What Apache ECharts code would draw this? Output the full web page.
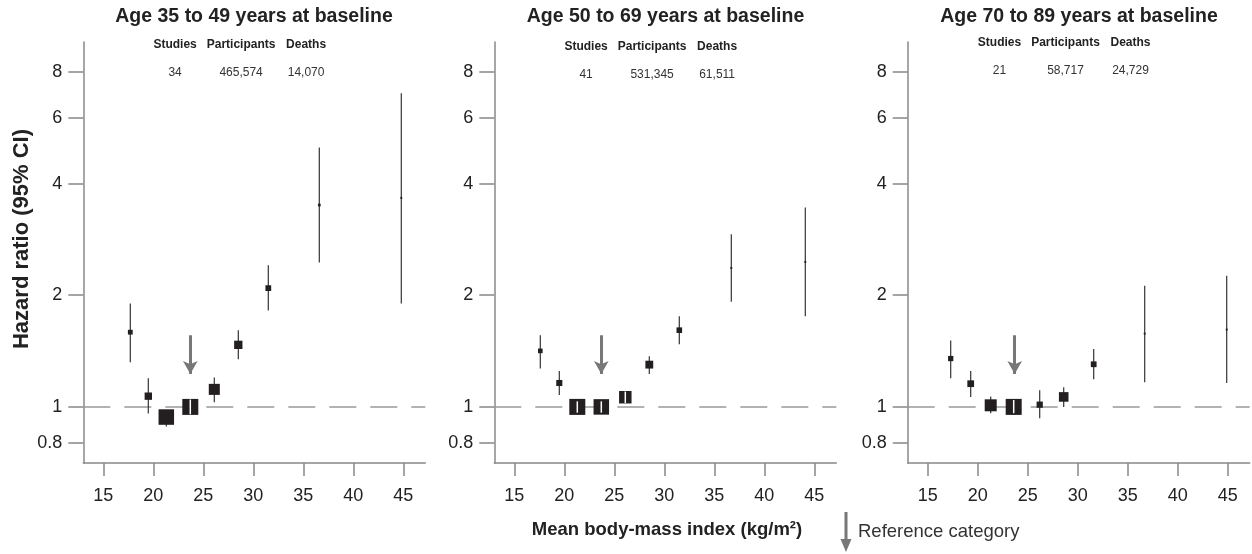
<!DOCTYPE html>
<html>
<head>
<meta charset="utf-8"/>
<script src="https://cdn.jsdelivr.net/npm/echarts@6/dist/echarts.min.js"></script>
<style>html,body{margin:0;padding:0;background:#fff;}</style>
</head>
<body>
<div id="main" style="width:1252px;height:554px;"></div>
<script type="text/javascript">
// panel headings and counts
var panelTitles = ['Age 35 to 49 years at baseline', 'Age 50 to 69 years at baseline', 'Age 70 to 89 years at baseline'];
var studies = ['34', '41', '21'];
var participants = ['465,574', '531,345', '58,717'];
var deaths = ['14,070', '61,511', '24,729'];

var xTicks = [15, 20, 25, 30, 35, 40, 45];
var yTicks = [0.8, 1, 2, 4, 6, 8];
var refBmi = 23.7;

// age 35-49
var bmi1 = [17.7, 19.5, 21.3, 23.7, 26.1, 28.5, 31.5, 36.6, 44.8];
var hr1 = [1.59, 1.069, 0.939, 1.00, 1.115, 1.47, 2.09, 3.50, 3.66];
var lo1 = [1.32, 0.96, 0.885, 0.955, 1.03, 1.345, 1.82, 2.45, 1.90];
var hi1 = [1.90, 1.195, 0.98, 1.047, 1.20, 1.61, 2.41, 5.00, 7.01];
var weight1 = [0.30, 0.46, 0.97, 1.0, 0.69, 0.52, 0.36, 0.17, 0.12];

// age 50-69
var bmi2 = [17.6, 19.5, 21.3, 23.7, 26.1, 28.5, 31.5, 36.7, 44.1];
var hr2 = [1.416, 1.16, 1.00, 1.00, 1.062, 1.30, 1.61, 2.37, 2.46];
var lo2 = [1.27, 1.077, 0.965, 0.965, 1.025, 1.227, 1.476, 1.92, 1.756];
var hi2 = [1.56, 1.25, 1.035, 1.035, 1.10, 1.37, 1.756, 2.92, 3.45];
var weight2 = [0.29, 0.38, 1.0, 0.97, 0.78, 0.49, 0.35, 0.12, 0.12];

// age 70-89
var bmi3 = [17.3, 19.3, 21.3, 23.6, 26.2, 28.6, 31.6, 36.7, 44.9];
var hr3 = [1.35, 1.155, 1.01, 1.00, 1.014, 1.064, 1.303, 1.576, 1.616];
var lo3 = [1.195, 1.064, 0.962, 0.962, 0.932, 1.00, 1.188, 1.166, 1.16];
var hi3 = [1.51, 1.25, 1.066, 1.044, 1.109, 1.13, 1.433, 2.12, 2.256];
var weight3 = [0.33, 0.42, 0.75, 1.0, 0.39, 0.6, 0.36, 0.12, 0.12];

var panels = [
    {bmi: bmi1, hr: hr1, lo: lo1, hi: hi1, w: weight1},
    {bmi: bmi2, hr: hr2, lo: lo2, hi: hi2, w: weight2},
    {bmi: bmi3, hr: hr3, lo: lo3, hi: hi3, w: weight3}
];

var BOX_MAX = 16;
var gridLeft = [83.3, 494.3, 907.7];
var statsTop = [45, 47, 43];
var FONT = 'Liberation Sans, Arial, sans-serif';
var lg = function (v) { return Math.log10(v); };

var myChart = echarts.init(document.getElementById('main'));

function renderBox(params, api) {
    var c = api.coord([api.value(0), api.value(1)]);
    var yLo = api.coord([api.value(0), api.value(2)])[1];
    var yHi = api.coord([api.value(0), api.value(3)])[1];
    var s = api.value(4) * BOX_MAX;
    var h = s / 2;
    var kids = [
        {type: 'line', shape: {x1: c[0], y1: yHi, x2: c[0], y2: yLo}, style: {stroke: '#333', lineWidth: 1.2}},
        {type: 'rect', shape: {x: c[0] - h, y: c[1] - h, width: s, height: s}, style: {fill: '#231f20'}}
    ];
    // CI inside the box is drawn white
    if (yHi >= c[1] - h && yLo <= c[1] + h) {
        kids.push({type: 'line', shape: {x1: c[0], y1: yHi, x2: c[0], y2: yLo}, style: {stroke: '#fff', lineWidth: 1.5}});
    }
    return {type: 'group', children: kids};
}

var grids = [], xAxes = [], yAxes = [], series = [], graphics = [];

panels.forEach(function (p, i) {
    grids.push({left: gridLeft[i], top: 42, width: 342, height: 421});
    xAxes.push({
        gridIndex: i, type: 'value', min: 13, max: 47.2,
        axisLine: {show: true, onZero: false, lineStyle: {color: '#888', width: 1.5}},
        axisTick: {show: true, length: 13, customValues: xTicks, lineStyle: {color: '#888', width: 1.5}},
        axisLabel: {customValues: xTicks, margin: 24, fontSize: 18, color: '#222', fontFamily: FONT},
        splitLine: {show: false}
    });
    yAxes.push({
        gridIndex: i, type: 'value', min: lg(0.706), max: lg(9.63),
        axisLine: {show: true, onZero: false, lineStyle: {color: '#888', width: 1.5}},
        axisTick: {show: true, length: 15, customValues: yTicks.map(lg), lineStyle: {color: '#888', width: 1.5}},
        axisLabel: {
            customValues: yTicks.map(lg), margin: 21, fontSize: 18, color: '#222', fontFamily: FONT,
            formatter: function (v) { return String(+Math.pow(10, v).toFixed(1)); }
        },
        splitLine: {show: false}
    });
    series.push({
        type: 'custom',
        xAxisIndex: i, yAxisIndex: i,
        z: 2,
        renderItem: renderBox,
        encode: {x: 0, y: 1},
        data: p.bmi.map(function (b, k) {
            return [b, lg(p.hr[k]), lg(p.lo[k]), lg(p.hi[k]), p.w[k]];
        }),
        markLine: {
            silent: true, z: 1, symbol: ['none', 'none'],
            label: {show: false},
            data: [
                {yAxis: 0, lineStyle: {color: '#999', width: 1.5, type: [27, 14]}},
                [
                    {coord: [refBmi, lg(1.56)], lineStyle: {color: '#777', width: 3, type: 'solid'}},
                    {coord: [refBmi, lg(1.227)], symbol: 'arrow', symbolSize: [11, 13]}
                ]
            ]
        }
    });

    var cx = [254, 665.5, 1079][i];
    graphics.push({type: 'text', x: cx, y: 17,
        style: {text: panelTitles[i], textAlign: 'center', textVerticalAlign: 'middle', font: 'bold 19.5px ' + FONT, fill: '#222'}});
    var offs = [91.8, 157.8, 222.8];
    var heads = ['Studies', 'Participants', 'Deaths'];
    var vals = [studies[i], participants[i], deaths[i]];
    for (var k = 0; k < 3; k++) {
        graphics.push({type: 'text', x: gridLeft[i] + offs[k], y: statsTop[i],
            style: {text: heads[k], textAlign: 'center', textVerticalAlign: 'middle', font: 'bold 12px ' + FONT, fill: '#222'}});
        graphics.push({type: 'text', x: gridLeft[i] + offs[k], y: statsTop[i] + 28,
            style: {text: vals[k], textAlign: 'center', textVerticalAlign: 'middle', font: '12px ' + FONT, fill: '#333'}});
    }
});

// axis names and legend
graphics.push({type: 'text', x: 22, y: 239, rotation: Math.PI / 2,
    style: {text: 'Hazard ratio (95% CI)', textAlign: 'center', textVerticalAlign: 'middle', font: 'bold 22px ' + FONT, fill: '#222'}});
graphics.push({type: 'text', x: 667, y: 530,
    style: {text: 'Mean body-mass index (kg/m²)', textAlign: 'center', textVerticalAlign: 'middle', font: 'bold 18.5px ' + FONT, fill: '#222'}});
graphics.push({type: 'line', shape: {x1: 846, y1: 512, x2: 846, y2: 542}, style: {stroke: '#777', lineWidth: 3}});
graphics.push({type: 'polygon', shape: {points: [[840.5, 539], [851.5, 539], [846, 552]]}, style: {fill: '#777'}});
graphics.push({type: 'text', x: 858, y: 532,
    style: {text: 'Reference category', textAlign: 'left', textVerticalAlign: 'middle', font: '18.5px ' + FONT, fill: '#333'}});

var option = {
    animation: false,
    backgroundColor: '#fff',
    grid: grids,
    xAxis: xAxes,
    yAxis: yAxes,
    series: series,
    graphic: graphics
};

myChart.setOption(option);
</script>
</body>
</html>
